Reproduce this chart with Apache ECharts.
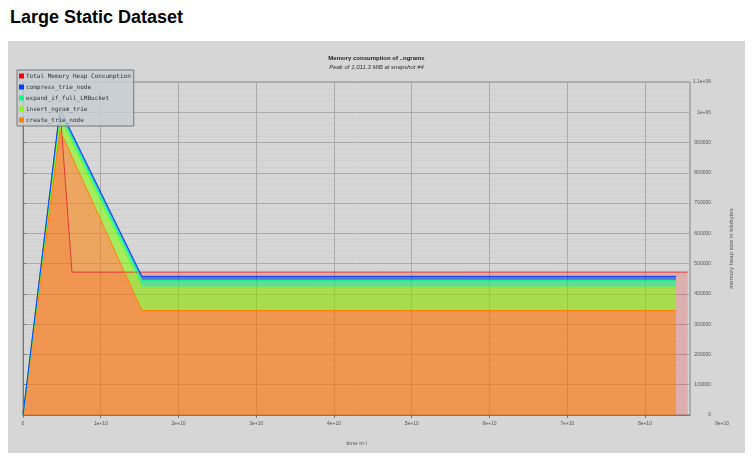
<!DOCTYPE html>
<html><head><meta charset="utf-8">
<script src="https://cdn.jsdelivr.net/npm/echarts@6/dist/echarts.min.js"></script>
<style>
html,body{margin:0;padding:0;background:#fff;width:753px;height:460px;overflow:hidden}
#h{position:absolute;left:10px;top:7px;font:bold 18px "Liberation Sans",Arial,sans-serif;color:#000;line-height:20px;white-space:nowrap}
#c{position:absolute;left:8px;top:41px;width:737px;height:412px;background:#d6d6d6}
</style></head><body>
<div id="h">Large Static Dataset</div>
<div id="c"></div>
<script>
// ---- data ----
const seriesNames = ['Total Memory Heap Consumption', 'compress_trie_node', 'expand_if_full_LMBucket', 'insert_ngram_trie', 'create_trie_node'];
const timeTotal = [0, 4.76e9, 6.3e9, 8.55e10];
const totalHeap = [0, 1011300, 472000, 472000];
const timeDetail = [0, 4.76e9, 1.53e10, 8.40e10];
const createTrieNode = [0, 940000, 345000, 345000];
const insertNgramTrie = [0, 42000, 77000, 77000];
const expandIfFull = [0, 17000, 23000, 23000];
const compressTrieNode = [0, 12000, 13000, 13000];
const xTickLabels = ['0', '1e+10', '2e+10', '3e+10', '4e+10', '5e+10', '6e+10', '7e+10', '8e+10', '9e+10'];
const yTickLabels = ['0', '100000', '200000', '300000', '400000', '500000', '600000', '700000', '800000', '900000', '1e+06', '1.1e+06'];

// rows are [value, time] so that the value column is the stacked one
const rows = (xs, ys) => xs.map((x, i) => [ys[i], x]);
const chart = echarts.init(document.getElementById('c'), null, {renderer: 'canvas'});
const lblFont = {fontSize: 5, color: '#555', fontFamily: 'Liberation Sans'};
const xLabel = v => { const i = Math.round(v / 1e10); return Math.abs(v - i * 1e10) < 1 ? (xTickLabels[i] || '') : ''; };
const yLabel = v => { const i = Math.round(v / 1e5); return Math.abs(v - i * 1e5) < 1 ? (yTickLabels[i] || '') : ''; };

function stackSeries(name, color, vals) {
  return {
    name, type: 'line', stack: 'heap', xAxisIndex: 0, yAxisIndex: 0,
    data: rows(timeDetail, vals), encode: {x: 1, y: 0},
    symbol: 'none', color,
    lineStyle: {color, width: 1},
    areaStyle: {color, opacity: 0.55}
  };
}

chart.setOption({
  animation: false,
  title: {
    text: 'Memory consumption of ..ngrams',
    subtext: 'Peak of 1,011.3 MiB at snapshot #4',
    left: 'center', top: 9, itemGap: 3,
    textStyle: {fontSize: 6, fontWeight: 'bold', color: '#222', fontFamily: 'Liberation Sans'},
    subtextStyle: {fontSize: 6, fontStyle: 'italic', color: '#333', fontFamily: 'Liberation Sans'}
  },
  legend: {
    orient: 'vertical', left: 9, top: 29,
    data: seriesNames,
    icon: 'rect', itemWidth: 5, itemHeight: 5, itemGap: 5,
    padding: [3, 3, 3, 2],
    backgroundColor: 'rgba(200,206,212,0.85)', borderColor: '#777', borderWidth: 1,
    textStyle: {fontSize: 6, fontFamily: 'DejaVu Sans Mono', color: '#333', padding: [0, 0, 0, -3]}
  },
  grid: [
    {left: 15, top: 41, width: 667, height: 333, show: true, borderColor: '#888', borderWidth: 1},
    {left: 15, top: 41, width: 699, height: 333}
  ],
  xAxis: [
    {
      type: 'value', gridIndex: 0, min: 0, max: 8.58e10, interval: 1e10,
      name: 'time in i', nameLocation: 'middle', nameGap: 25,
      nameTextStyle: {fontSize: 6, color: '#555', fontFamily: 'Liberation Sans'},
      axisLine: {show: true, lineStyle: {color: '#777'}},
      axisTick: {show: true, length: 3, lineStyle: {color: '#777'}},
      axisLabel: Object.assign({formatter: xLabel, margin: 6, showMaxLabel: false}, lblFont),
      splitLine: {show: true, lineStyle: {color: '#aaa'}}
    },
    {
      type: 'value', gridIndex: 1, min: 0, max: 9e10, interval: 1e10,
      axisLine: {show: false}, axisTick: {show: false}, splitLine: {show: false},
      axisLabel: Object.assign({formatter: v => (Math.abs(v - 9e10) < 1 ? xTickLabels[9] : ''), margin: 6, showMaxLabel: true}, lblFont)
    }
  ],
  yAxis: [
    {
      type: 'value', gridIndex: 0, position: 'right', min: 0, max: 1.1e6, interval: 1e5,
      name: 'memory heap size in kilobytes', nameLocation: 'middle', nameGap: 38,
      nameTextStyle: {fontSize: 6, color: '#555', fontFamily: 'Liberation Sans'},
      axisLine: {show: true, lineStyle: {color: '#777'}},
      axisTick: {show: true, length: 3, lineStyle: {color: '#777'}},
      axisLabel: Object.assign({formatter: yLabel, margin: 21, align: 'right'}, lblFont),
      splitLine: {show: true, lineStyle: {color: '#aaa'}},
      minorTick: {show: false, splitNumber: 5},
      minorSplitLine: {show: true, lineStyle: {color: 'rgba(0,0,0,0.025)'}}
    },
    {type: 'value', gridIndex: 1, min: 0, max: 1.1e6, show: false}
  ],
  series: [
    {
      name: seriesNames[0], type: 'line', xAxisIndex: 0, yAxisIndex: 0,
      data: rows(timeTotal, totalHeap), encode: {x: 1, y: 0},
      symbol: 'none', color: '#ff0000',
      lineStyle: {color: '#e03a3a', width: 1},
      areaStyle: {color: 'rgba(255,0,0,0.26)'}
    },
    stackSeries(seriesNames[4], '#ff8000', createTrieNode),
    stackSeries(seriesNames[3], '#80ff00', insertNgramTrie),
    stackSeries(seriesNames[2], '#00ff80', expandIfFull),
    stackSeries(seriesNames[1], '#0040ff', compressTrieNode)
  ]
});
</script>
</body></html>
